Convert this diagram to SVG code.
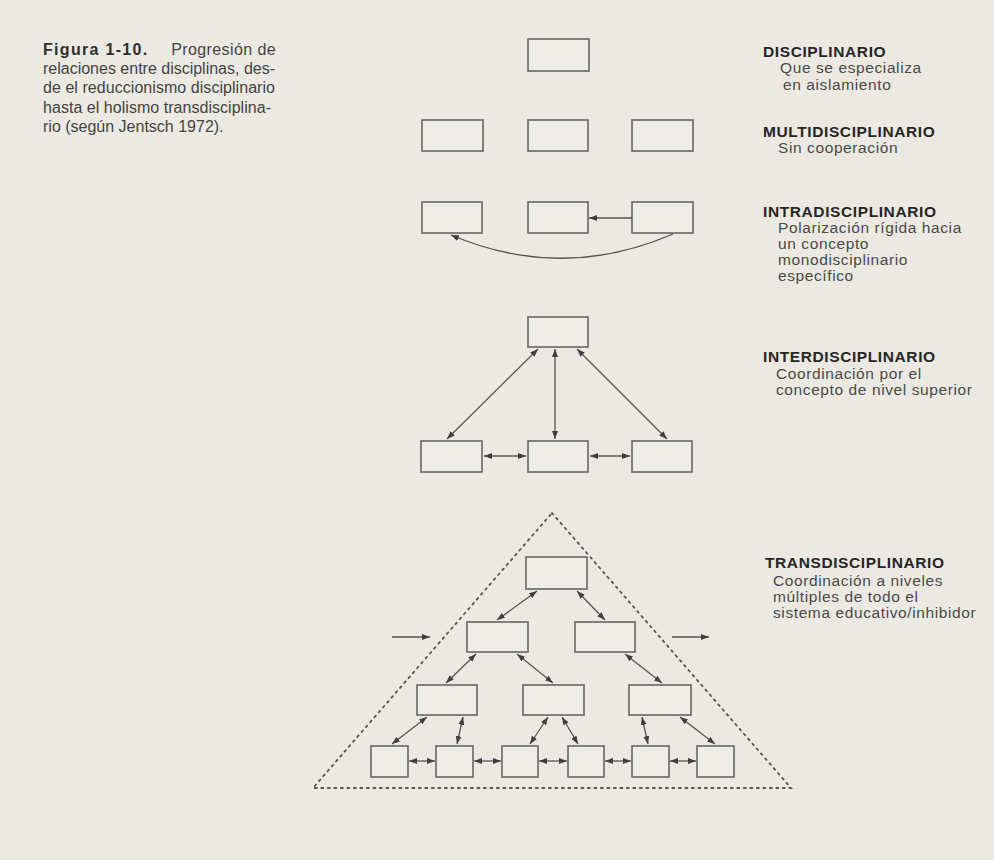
<svg xmlns="http://www.w3.org/2000/svg" width="994" height="860" viewBox="0 0 994 860">
<defs>
<marker id="ah" viewBox="0 0 8 6" refX="8" refY="3" markerWidth="8" markerHeight="6" markerUnits="userSpaceOnUse" orient="auto-start-reverse">
<path d="M0,0 L8,3 L0,6 z" fill="#3f3f3f"/>
</marker>
<style>
.bx{fill:#efede7;stroke:#666;stroke-width:1.6}
.ln{fill:none;stroke:#555;stroke-width:1.3}
.dbl{marker-start:url(#ah);marker-end:url(#ah)}
.one{marker-end:url(#ah)}
.dot{fill:none;stroke:#555;stroke-width:1.8;stroke-dasharray:2 4.5;stroke-linecap:round}
.cap{font-family:"Liberation Sans",Arial,sans-serif;font-size:16px;fill:#444}
.capb{font-weight:bold;fill:#2e2e2e;letter-spacing:1.3px}
.hd{font-family:"Liberation Sans",Arial,sans-serif;font-size:15.5px;font-weight:bold;letter-spacing:0.6px;fill:#262626}
.tx{font-family:"Liberation Sans",Arial,sans-serif;font-size:15.5px;letter-spacing:0.6px;fill:#4a4a4a}
</style>
</defs>
<rect x="0" y="0" width="994" height="860" fill="#ebe9e2"/>

<g id="caption">
<text class="cap capb" x="43" y="55">Figura 1-10.</text>
<text class="cap" x="276" y="55" text-anchor="end" letter-spacing="0.4">Progresión de</text>
<text class="cap" x="43" y="74" textLength="232" lengthAdjust="spacing">relaciones entre disciplinas, des-</text>
<text class="cap" x="43" y="93" textLength="232" lengthAdjust="spacing">de el reduccionismo disciplinario</text>
<text class="cap" x="43" y="113" textLength="228" lengthAdjust="spacing">hasta el holismo transdisciplina-</text>
<text class="cap" x="43" y="132">rio (según Jentsch 1972).</text>
</g>

<g id="labels">
<text class="hd" x="763" y="57">DISCIPLINARIO</text>
<text class="tx" x="780" y="73">Que se especializa</text>
<text class="tx" x="783" y="90">en aislamiento</text>
<text class="hd" x="763" y="137">MULTIDISCIPLINARIO</text>
<text class="tx" x="778" y="153">Sin cooperación</text>
<text class="hd" x="763" y="217">INTRADISCIPLINARIO</text>
<text class="tx" x="778" y="233">Polarización rígida hacia</text>
<text class="tx" x="778" y="249">un concepto</text>
<text class="tx" x="778" y="265">monodisciplinario</text>
<text class="tx" x="778" y="281">específico</text>
<text class="hd" x="763" y="362">INTERDISCIPLINARIO</text>
<text class="tx" x="776" y="379">Coordinación por el</text>
<text class="tx" x="776" y="395">concepto de nivel superior</text>
<text class="hd" x="765" y="568">TRANSDISCIPLINARIO</text>
<text class="tx" x="773" y="586">Coordinación a niveles</text>
<text class="tx" x="773" y="602">múltiples de todo el</text>
<text class="tx" x="773" y="618">sistema educativo/inhibidor</text>
</g>

<g id="disciplinario"><rect id="d1" class="bx" x="528" y="39" width="61" height="32"/></g>
<g id="multidisciplinario">
<rect id="m1" class="bx" x="422" y="120" width="61" height="31"/>
<rect id="m2" class="bx" x="528" y="120" width="60" height="31"/>
<rect id="m3" class="bx" x="632" y="120" width="61" height="31"/>
</g>
<g id="intradisciplinario">
<rect id="i1" class="bx" x="422" y="202" width="60" height="31"/>
<rect id="i2" class="bx" x="528" y="202" width="60" height="31"/>
<rect id="i3" class="bx" x="632" y="202" width="61" height="31"/>
</g>
<g id="interdisciplinario">
<rect id="n0" class="bx" x="528" y="317" width="60" height="30"/>
<rect id="n1" class="bx" x="421" y="441" width="61" height="31"/>
<rect id="n2" class="bx" x="528" y="441" width="60" height="31"/>
<rect id="n3" class="bx" x="632" y="441" width="60" height="31"/>
</g>
<g id="transdisciplinario">
<rect id="t0" class="bx" x="526" y="557" width="61" height="32"/>
<rect id="t1" class="bx" x="467" y="622" width="61" height="30"/>
<rect id="t2" class="bx" x="575" y="622" width="60" height="30"/>
<rect id="t3" class="bx" x="417" y="685" width="60" height="30"/>
<rect id="t4" class="bx" x="523" y="685" width="61" height="30"/>
<rect id="t5" class="bx" x="629" y="685" width="62" height="30"/>
<rect id="t6" class="bx" x="371" y="746" width="37" height="31"/>
<rect id="t7" class="bx" x="436" y="746" width="37" height="31"/>
<rect id="t8" class="bx" x="502" y="746" width="36" height="31"/>
<rect id="t9" class="bx" x="568" y="746" width="36" height="31"/>
<rect id="t10" class="bx" x="632" y="746" width="37" height="31"/>
<rect id="t11" class="bx" x="697" y="746" width="37" height="31"/>
</g>

<g id="connectors">
<line class="ln one" x1="632" y1="218" x2="589" y2="218"/>
<path class="ln one" d="M673,234 Q562,282 451,235"/>
<line class="ln dbl" x1="538" y1="349" x2="447" y2="439"/>
<line class="ln dbl" x1="555" y1="349" x2="555" y2="439"/>
<line class="ln dbl" x1="577" y1="349" x2="667" y2="439"/>
<line class="ln dbl" x1="484" y1="456" x2="526" y2="456"/>
<line class="ln dbl" x1="590" y1="456" x2="630" y2="456"/>
<line class="ln dbl" x1="537" y1="591" x2="497" y2="620"/>
<line class="ln dbl" x1="577" y1="591" x2="605" y2="620"/>
<line class="ln dbl" x1="476" y1="654" x2="446" y2="683"/>
<line class="ln dbl" x1="517" y1="654" x2="553" y2="683"/>
<line class="ln dbl" x1="625" y1="654" x2="662" y2="683"/>
<line class="ln dbl" x1="427" y1="717" x2="392" y2="744"/>
<line class="ln dbl" x1="463" y1="717" x2="457" y2="744"/>
<line class="ln dbl" x1="548" y1="717" x2="530" y2="744"/>
<line class="ln dbl" x1="562" y1="717" x2="578" y2="744"/>
<line class="ln dbl" x1="642" y1="717" x2="648" y2="744"/>
<line class="ln dbl" x1="680" y1="717" x2="715" y2="744"/>
<line class="ln dbl" x1="409" y1="761" x2="435" y2="761"/>
<line class="ln dbl" x1="474" y1="761" x2="501" y2="761"/>
<line class="ln dbl" x1="539" y1="761" x2="567" y2="761"/>
<line class="ln dbl" x1="605" y1="761" x2="631" y2="761"/>
<line class="ln dbl" x1="670" y1="761" x2="696" y2="761"/>
<line class="ln one" x1="392" y1="637" x2="430" y2="637"/>
<line class="ln one" x1="672" y1="637" x2="709" y2="637"/>
<polygon class="dot" points="552,513 791,788 313,788"/>
</g>
</svg>
